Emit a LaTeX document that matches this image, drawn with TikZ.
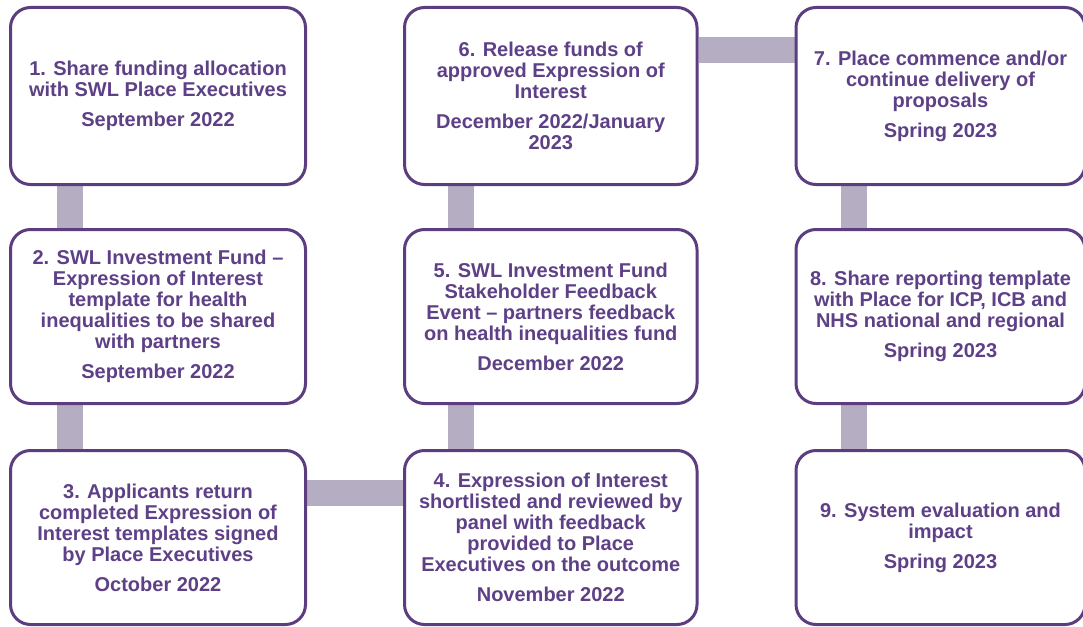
\documentclass[tikz,border=0pt]{standalone}
\usepackage{fontspec}
\setmainfont{Liberation Sans}
\usetikzlibrary{calc,backgrounds}

\definecolor{stepline}{HTML}{5C3D7F}
\definecolor{steptext}{HTML}{5E4087}
\definecolor{linkbar}{HTML}{B5AEC2}

\tikzset{
  stepbox/.style={draw=stepline, line width=3pt, rounded corners=20pt,
    fill=white, align=center, inner sep=0pt,
    font=\fontsize{20}{21}\selectfont\bfseries, text=steptext},
  rowtop/.style={minimum height=177pt},
  rowlow/.style={minimum height=174pt},
  colA/.style={minimum width=295pt},
  colB/.style={minimum width=292.5pt},
  colC/.style={minimum width=289pt},
  linkbar/.style={draw=linkbar, line width=26pt, line cap=butt},
}
\newcommand{\stepdate}{\\[9pt]}

\begin{document}
\begin{tikzpicture}[x=1pt,y=-1pt]
\useasboundingbox (0,0) rectangle (1083,626);
\clip (0,0) rectangle (1083,626);

% column 1
\node[stepbox,colA,rowtop] (b1) at (158,96)
  {1. Share funding allocation\\with SWL Place Executives\stepdate September 2022};
\node[stepbox,colA,rowlow] (b2) at (158,316.5)
  {2. SWL Investment Fund --\\Expression of Interest\\template for health\\inequalities to be shared\\with partners\stepdate September 2022};
\node[stepbox,colA,rowlow] (b3) at (158,537.5)
  {3. Applicants return\\completed Expression of\\Interest templates signed\\by Place Executives\stepdate October 2022};

% column 2
\node[stepbox,colB,rowlow] (b4) at (550.75,537.5)
  {4. Expression of Interest\\shortlisted and reviewed by\\panel with feedback\\provided to Place\\Executives on the outcome\stepdate November 2022};
\node[stepbox,colB,rowlow] (b5) at (550.75,316.5)
  {5. SWL Investment Fund\\Stakeholder Feedback\\Event -- partners feedback\\on health inequalities fund\stepdate December 2022};
\node[stepbox,colB,rowtop] (b6) at (550.75,96)
  {6. Release funds of\\approved Expression of\\Interest\stepdate December 2022/January\\2023};

% column 3
\node[stepbox,colC,rowtop] (b7) at (940.5,96)
  {7. Place commence and/or\\continue delivery of\\proposals\stepdate Spring 2023};
\node[stepbox,colC,rowlow] (b8) at (940.5,316.5)
  {8. Share reporting template\\with Place for ICP, ICB and\\NHS national and regional\stepdate Spring 2023};
\node[stepbox,colC,rowlow] (b9) at (940.5,537.5)
  {9. System  evaluation and\\impact\stepdate Spring 2023};

% connecting bars behind the boxes
\begin{scope}[on background layer]
  \draw[linkbar] ($(b1.south west)+(60.5,0)$) -- ($(b2.north west)+(60.5,0)$);
  \draw[linkbar] ($(b2.south west)+(60.5,0)$) -- ($(b3.north west)+(60.5,0)$);
  \draw[linkbar] ($(b3.east)+(0,-44.5)$) -- ($(b4.west)+(0,-44.5)$);
  \draw[linkbar] ($(b4.north west)+(58,0)$) -- ($(b5.south west)+(58,0)$);
  \draw[linkbar] ($(b5.north west)+(58,0)$) -- ($(b6.south west)+(58,0)$);
  \draw[linkbar] ($(b6.east)+(0,-46)$) -- ($(b7.west)+(0,-46)$);
  \draw[linkbar] ($(b7.south west)+(59,0)$) -- ($(b8.north west)+(59,0)$);
  \draw[linkbar] ($(b8.south west)+(59,0)$) -- ($(b9.north west)+(59,0)$);
\end{scope}
\end{tikzpicture}
\end{document}
